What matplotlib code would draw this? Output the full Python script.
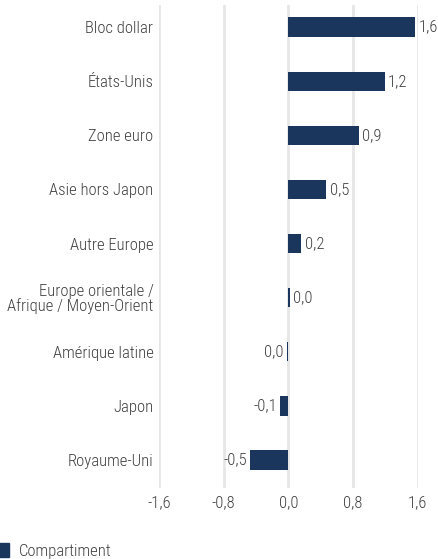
import matplotlib.pyplot as plt
from matplotlib import font_manager
from matplotlib.patches import Patch

# données (de bas en haut)
categories = ['Royaume-Uni', 'Japon', 'Amérique latine',
              'Europe orientale /\nAfrique / Moyen-Orient', 'Autre Europe',
              'Asie hors Japon', 'Zone euro', 'États-Unis', 'Bloc dollar']
valeurs = [-0.47, -0.1, -0.015, 0.015, 0.16, 0.47, 0.87, 1.19, 1.57]
etiquettes = ['-0,5', '-0,1', '0,0', '0,0', '0,2', '0,5', '0,9', '1,2', '1,6']
ticks = [-1.6, -0.8, 0.0, 0.8, 1.6]
tick_labels = ['-1,6', '-0,8', '0,0', '0,8', '1,6']

# police condensée si disponible
noms = {f.name for f in font_manager.fontManager.ttflist}
famille = 'DejaVu Sans'
for f in ['Roboto Condensed', 'Fira Sans Condensed', 'Barlow Semi Condensed', 'Archivo Narrow']:
    if f in noms:
        famille = f
        break
plt.rcParams['font.family'] = [famille, 'DejaVu Sans']
plt.rcParams['font.weight'] = 300

bleu = '#1b365d'
gris = '#404040'
fs = 12

fig = plt.figure(figsize=(4.38, 5.59), dpi=100)
ax = fig.add_axes([0.363, 0.127, 0.591, 0.864])

pos = list(range(len(categories)))
ax.barh(pos, valeurs, height=0.36, color=bleu, zorder=3)

for y, v, t in zip(pos, valeurs, etiquettes):
    if v >= 0:
        ax.text(v + 0.04, y, t, va='center', ha='left', fontsize=fs, color=gris)
    else:
        ax.text(v - 0.04, y, t, va='center', ha='right', fontsize=fs, color=gris)

ax.set_xlim(-1.6, 1.6)
ax.set_ylim(-0.52, 8.41)
ax.set_xticks(ticks)
ax.set_xticklabels(tick_labels, fontsize=fs, color=gris)
ax.set_yticks(pos)
ax.set_yticklabels(categories, fontsize=fs, color=gris, linespacing=0.95)
ax.tick_params(length=0, pad=4)
ax.tick_params(axis='x', pad=5)
ax.grid(axis='x', color='#e6e6e6', linewidth=2, zorder=0)
for s in ax.spines.values():
    s.set_visible(False)

fig.legend(handles=[Patch(color=bleu, label='Compartiment')],
           loc='lower left', bbox_to_anchor=(-0.038, -0.026), frameon=False,
           fontsize=fs, handlelength=0.65, handleheight=0.9, handletextpad=0.6,
           labelcolor=gris)

fig.savefig('out.png', dpi=100)
